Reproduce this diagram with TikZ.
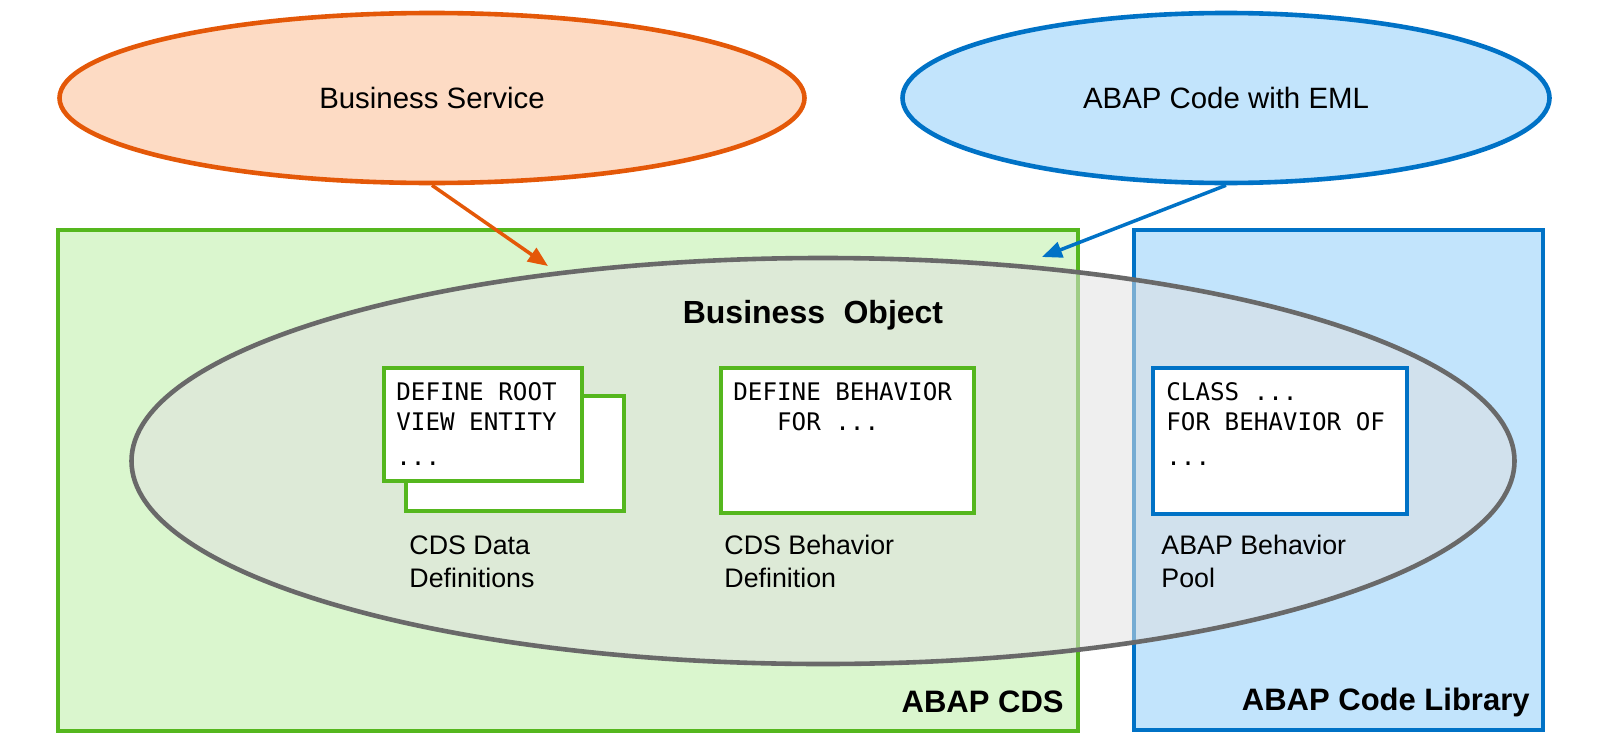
\documentclass[tikz,border=0pt]{standalone}
\usepackage{fontspec}
\setmainfont{Liberation Sans}
\setmonofont{DejaVu Sans Mono}
\usetikzlibrary{shapes.geometric,arrows.meta}
\definecolor{orLine}{RGB}{228,88,8}
\definecolor{orFill}{RGB}{253,219,196}
\definecolor{blLine}{RGB}{0,114,198}
\definecolor{blFill}{RGB}{194,228,252}
\definecolor{grLine}{RGB}{85,183,30}
\definecolor{grFill}{RGB}{218,246,206}
\definecolor{elLine}{RGB}{105,105,105}
\definecolor{elFill}{RGB}{224,224,224}
\tikzset{
  topell/.style={ellipse, inner sep=0pt, line width=2.3pt, minimum height=85pt,
    font=\fontsize{14.7}{17}\selectfont},
  area/.style={rectangle, inner sep=0pt, line width=2.3pt},
  codebox/.style={rectangle, inner sep=0pt, line width=2.3pt, fill=white},
  codetext/.style={anchor=north west, inner sep=0pt, align=left,
    font=\fontsize{12.1}{15}\selectfont\ttfamily},
  lbl/.style={anchor=north west, inner sep=0pt, align=left,
    font=\fontsize{13.4}{16.5}\selectfont},
  areatitle/.style={anchor=east, inner sep=0pt,
    font=\fontsize{15.5}{18}\selectfont\bfseries},
  conn/.style={line width=1.75pt, -{Triangle[length=10pt,width=8pt]}}
}
\begin{document}
\begin{tikzpicture}[x=0.5pt,y=-0.5pt]
\useasboundingbox (0,0) rectangle (1600,744);

% areas
\node[area, draw=grLine, fill=grFill, minimum width=510pt, minimum height=250.5pt] (cds) at (568,480.5) {};
\node[area, draw=blLine, fill=blFill, minimum width=204.5pt, minimum height=250pt] (lib) at (1338.5,480) {};

% business object ellipse
\node[ellipse, inner sep=0pt, line width=2.3pt, draw=elLine, fill=elFill, fill opacity=0.53,
  minimum width=691.5pt, minimum height=203pt] (bo) at (823,461) {};
\node[inner sep=0pt, font=\fontsize{16}{19}\selectfont\bfseries] (botitle) at (813,315) {Business\hspace{0.3em} Object};

% top ellipses
\node[topell, draw=orLine, fill=orFill, minimum width=372.5pt] (bs) at (432,98) {Business Service};
\node[topell, draw=blLine, fill=blFill, minimum width=323.5pt] (eml) at (1226,98) {ABAP Code with EML};

% code boxes
\node[codebox, draw=grLine, minimum width=109pt, minimum height=57.5pt] (ddlback) at (515,453.5) {};
\node[codebox, draw=grLine, minimum width=99pt, minimum height=56.5pt] (ddl) at (483,424.5) {};
\node[codetext] (ddltxt) at (396,382) {DEFINE ROOT\\VIEW ENTITY\\[2.5pt]...};

\node[codebox, draw=grLine, minimum width=126.5pt, minimum height=72.5pt] (bdef) at (847.5,440.5) {};
\node[codetext] (bdeftxt) at (733,382) {DEFINE BEHAVIOR\\\phantom{DEF}FOR ...};

\node[codebox, draw=blLine, minimum width=127pt, minimum height=73pt] (pool) at (1280,441) {};
\node[codetext] (pooltxt) at (1166,382) {CLASS ...\\FOR BEHAVIOR OF\\[2.5pt]...};

% labels
\node[lbl] (ddllbl) at (409,535) {CDS Data\\Definitions};
\node[lbl] (bdeflbl) at (724,535) {CDS Behavior\\Definition};
\node[lbl] (poollbl) at (1161,535) {ABAP Behavior\\Pool};

\node[areatitle] (cdstitle) at (1064,702) {ABAP CDS};
\node[areatitle] (libtitle) at (1530,702) {ABAP Code Library};

% connectors
\coordinate (bsend) at (548,266);
\coordinate (emlend) at (1042,257);
\draw[conn, draw=orLine, fill=orLine] (bs.south) -- (bsend);
\draw[conn, draw=blLine, fill=blLine] (eml.south) -- (emlend);
\end{tikzpicture}
\end{document}
